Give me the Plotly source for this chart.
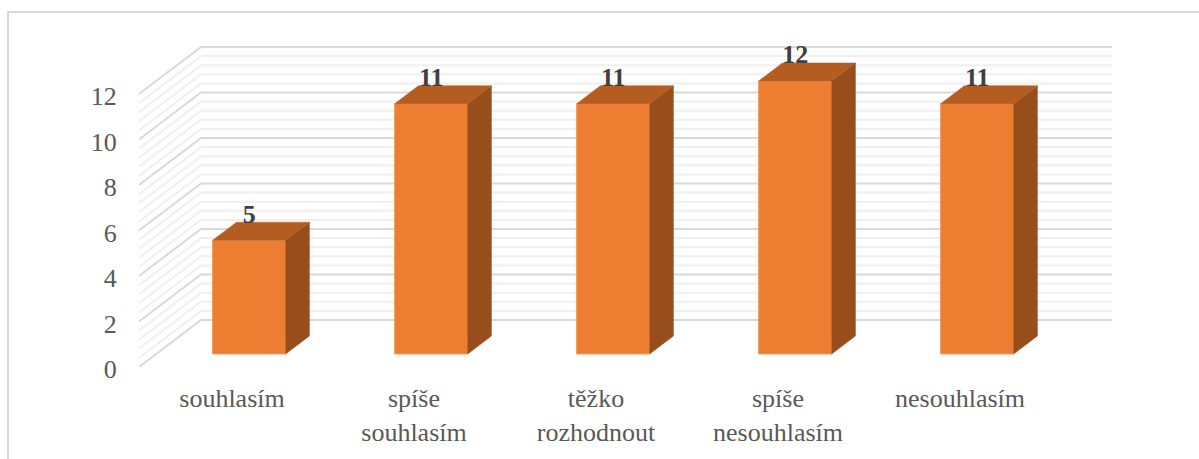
import plotly.graph_objects as go

categories = ["souhlasím", "spíše<br>souhlasím", "těžko<br>rozhodnout", "spíše<br>nesouhlasím", "nesouhlasím"]
values = [5, 11, 11, 12, 11]
major_ticks = [0, 2, 4, 6, 8, 10, 12]
minor_step = 0.4

WIDTH, HEIGHT = 1199, 459
LEFT, RIGHT, TOP, BOTTOM = 139, 1113, 40, 367
UNIT_X = 182.0            # pixels per category
UNIT_Y = 22.75            # pixels per value unit
ORIGIN_X = 232.0          # pixel of the first category at the front of the chart

# Oblique projection: depth 0 is the front plane, depth 1 the back wall.
DEPTH_X = 62 / UNIT_X
DEPTH_Y = 47 / UNIT_Y
BAR_FRONT, BAR_BACK = 0.277, 0.66
BAR_WIDTH = 73 / UNIT_X
WALL_RIGHT = 1112


def px_x(p):
    return (p - ORIGIN_X) / UNIT_X


def project(x, v, depth):
    return x + depth * DEPTH_X, v + depth * DEPTH_Y


def paper_x(p):
    return (p - LEFT) / (RIGHT - LEFT)


def paper_y(p):
    return (BOTTOM - p) / (BOTTOM - TOP)


x_range = [px_x(LEFT), px_x(RIGHT)]
y_range = [0, (BOTTOM - TOP) / UNIT_Y]


def wall_line(v, color, width):
    x0, y0 = project(px_x(LEFT), v, 0)
    x1, y1 = project(px_x(LEFT), v, 1)
    x2 = px_x(WALL_RIGHT)
    return dict(type="path", xref="x", yref="y", layer="below",
                path=f"M{x0},{y0} L{x1},{y1} L{x2},{y1}",
                line=dict(color=color, width=width))


shapes = []
n_minor = round(max(major_ticks) / minor_step)
for k in range(n_minor + 1):
    v = k * minor_step
    if not any(abs(v - m) < 1e-9 for m in major_ticks):
        shapes.append(wall_line(v, "#f0f0f0", 2))
for m in major_ticks:
    shapes.append(wall_line(m, "#d9d9d9", 2))

# Outer chart border, open at the right and bottom of the page.
shapes.append(dict(type="path", xref="paper", yref="paper", layer="below",
                   path=f"M{paper_x(8)},{paper_y(HEIGHT + 2)} L{paper_x(8)},{paper_y(12)} L{paper_x(WIDTH + 2)},{paper_y(12)}",
                   line=dict(color="#d9d9d9", width=2)))

fig = go.Figure()

bar_x = [project(i, 0, BAR_FRONT)[0] for i in range(len(values))]
base = project(0, 0, BAR_FRONT)[1]

fig.add_trace(go.Bar(x=bar_x, y=values, base=base, width=BAR_WIDTH,
                     marker=dict(color="#ed7d31", line=dict(color="#f0975a", width=1)),
                     hoverinfo="skip", showlegend=False))

for xc, v in zip(bar_x, values):
    xl, xr = xc - BAR_WIDTH / 2, xc + BAR_WIDTH / 2
    step = BAR_BACK - BAR_FRONT
    top_v = v + base
    # right side face
    sx = [xr, xr, xr + step * DEPTH_X, xr + step * DEPTH_X, xr]
    sy = [base, top_v, top_v + step * DEPTH_Y, base + step * DEPTH_Y, base]
    fig.add_trace(go.Scatter(x=sx, y=sy, mode="lines", fill="toself", fillcolor="#984e1c",
                             line=dict(color="#984e1c", width=0.5), hoverinfo="skip", showlegend=False))
    # top face
    tx = [xl, xr, xr + step * DEPTH_X, xl + step * DEPTH_X, xl]
    ty = [top_v, top_v, top_v + step * DEPTH_Y, top_v + step * DEPTH_Y, top_v]
    fig.add_trace(go.Scatter(x=tx, y=ty, mode="lines", fill="toself", fillcolor="#b55d21",
                             line=dict(color="#b55d21", width=0.5), hoverinfo="skip", showlegend=False))

# Value labels sit just above the front edge of each bar's top.
label_offset = 24 / UNIT_Y
fig.add_trace(go.Scatter(x=bar_x, y=[v + base + label_offset for v in values],
                         mode="text", text=[str(v) for v in values], textposition="middle center",
                         textfont=dict(family="Liberation Serif", size=26, color="#404040", weight="bold"),
                         hoverinfo="skip", showlegend=False))

fig.update_layout(
    width=WIDTH, height=HEIGHT,
    margin=dict(l=LEFT, r=WIDTH - RIGHT, t=TOP, b=HEIGHT - BOTTOM, pad=0, autoexpand=False),
    paper_bgcolor="white", plot_bgcolor="rgba(0,0,0,0)",
    shapes=shapes, showlegend=False,
    font=dict(family="Liberation Serif", size=26, color="#595959"),
    xaxis=dict(range=x_range, tickmode="array", tickvals=list(range(len(categories))), ticktext=categories,
               showgrid=False, zeroline=False, showline=False, ticks="outside", ticklen=8, automargin=False,
               tickcolor="rgba(0,0,0,0)", tickangle=0, fixedrange=True),
    yaxis=dict(range=y_range, tickmode="array", tickvals=major_ticks, ticktext=[str(t) for t in major_ticks],
               showgrid=False, zeroline=False, showline=False, ticks="outside", ticklen=16, automargin=False,
               tickcolor="rgba(0,0,0,0)", fixedrange=True, ticklabelshift=2),
)

fig.write_html("out.html", config=dict(displayModeBar=False))
